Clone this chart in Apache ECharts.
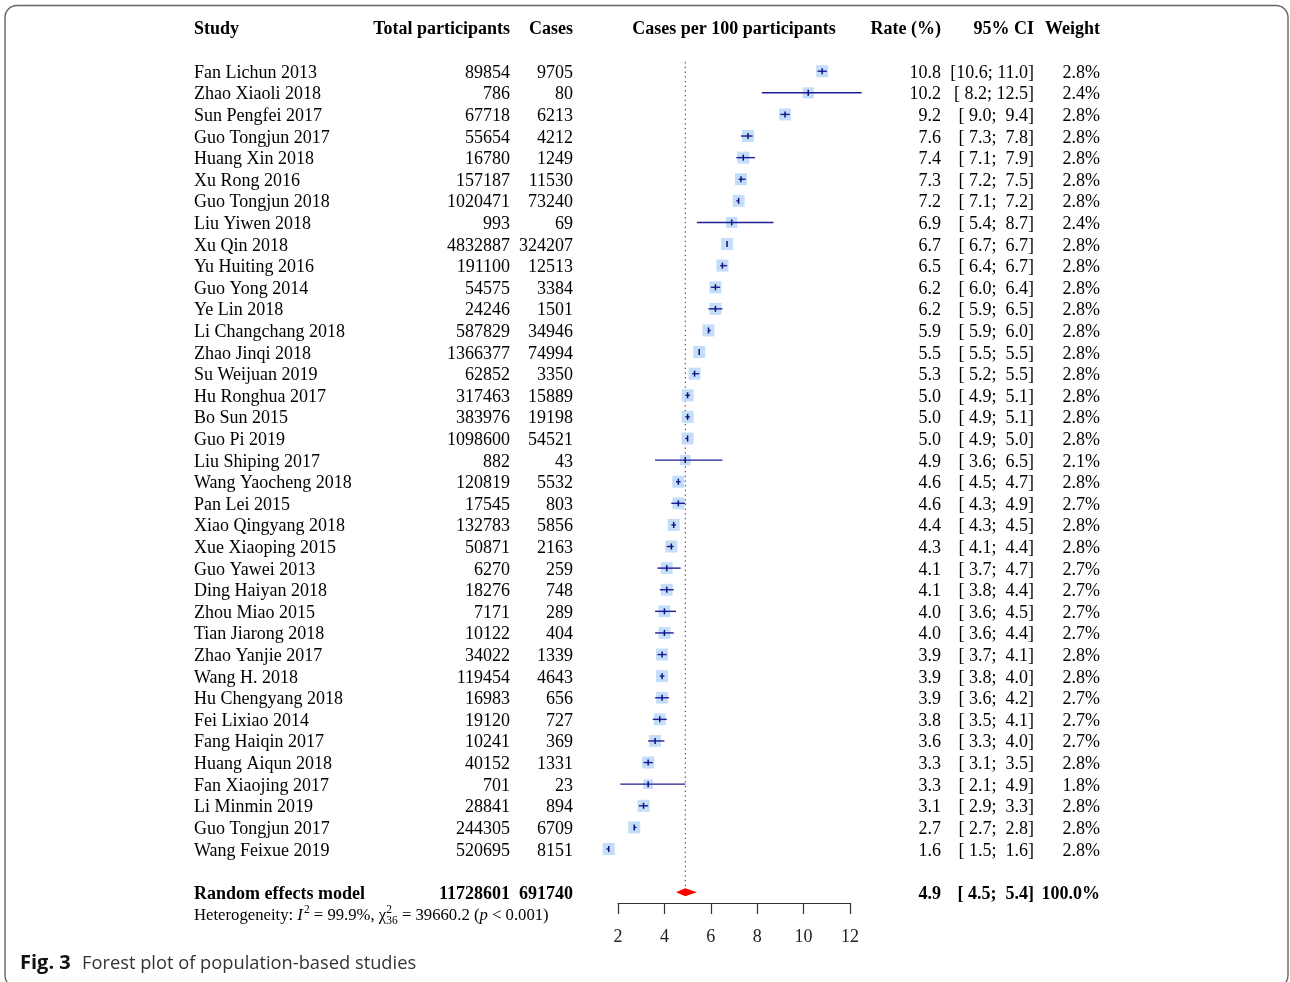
<!DOCTYPE html>
<html>
<head>
<meta charset="utf-8">
<title>Forest plot of population-based studies</title>
<script src="https://cdn.jsdelivr.net/npm/echarts@6/dist/echarts.min.js"></script>
<style>
  html, body { margin: 0; padding: 0; background: #fff; }
  #chart { width: 1290px; height: 982px; }
</style>
</head>
<body>
<div id="chart"></div>
<script>
// studies, top to bottom as they appear in the plot
var studies = ['Fan Lichun 2013', 'Zhao Xiaoli 2018', 'Sun Pengfei 2017', 'Guo Tongjun 2017', 'Huang Xin 2018',
  'Xu Rong 2016', 'Guo Tongjun 2018', 'Liu Yiwen 2018', 'Xu Qin 2018', 'Yu Huiting 2016', 'Guo Yong 2014',
  'Ye Lin 2018', 'Li Changchang 2018', 'Zhao Jinqi 2018', 'Su Weijuan 2019', 'Hu Ronghua 2017', 'Bo Sun 2015',
  'Guo Pi 2019', 'Liu Shiping 2017', 'Wang Yaocheng 2018', 'Pan Lei 2015', 'Xiao Qingyang 2018', 'Xue Xiaoping 2015',
  'Guo Yawei 2013', 'Ding Haiyan 2018', 'Zhou Miao 2015', 'Tian Jiarong 2018', 'Zhao Yanjie 2017', 'Wang H. 2018',
  'Hu Chengyang 2018', 'Fei Lixiao 2014', 'Fang Haiqin 2017', 'Huang Aiqun 2018', 'Fan Xiaojing 2017',
  'Li Minmin 2019', 'Guo Tongjun 2017', 'Wang Feixue 2019'];
var totals = [89854, 786, 67718, 55654, 16780, 157187, 1020471, 993, 4832887, 191100, 54575, 24246, 587829,
  1366377, 62852, 317463, 383976, 1098600, 882, 120819, 17545, 132783, 50871, 6270, 18276, 7171, 10122, 34022,
  119454, 16983, 19120, 10241, 40152, 701, 28841, 244305, 520695];
var cases = [9705, 80, 6213, 4212, 1249, 11530, 73240, 69, 324207, 12513, 3384, 1501, 34946, 74994, 3350, 15889,
  19198, 54521, 43, 5532, 803, 5856, 2163, 259, 748, 289, 404, 1339, 4643, 656, 727, 369, 1331, 23, 894, 6709, 8151];
var rates = [10.8, 10.2, 9.2, 7.6, 7.4, 7.3, 7.2, 6.9, 6.7, 6.5, 6.2, 6.2, 5.9, 5.5, 5.3, 5.0, 5.0, 5.0, 4.9, 4.6,
  4.6, 4.4, 4.3, 4.1, 4.1, 4.0, 4.0, 3.9, 3.9, 3.9, 3.8, 3.6, 3.3, 3.3, 3.1, 2.7, 1.6];
var ciLow = [10.6, 8.2, 9.0, 7.3, 7.1, 7.2, 7.1, 5.4, 6.7, 6.4, 6.0, 5.9, 5.9, 5.5, 5.2, 4.9, 4.9, 4.9, 3.6, 4.5,
  4.3, 4.3, 4.1, 3.7, 3.8, 3.6, 3.6, 3.7, 3.8, 3.6, 3.5, 3.3, 3.1, 2.1, 2.9, 2.7, 1.5];
var ciHigh = [11.0, 12.5, 9.4, 7.8, 7.9, 7.5, 7.2, 8.7, 6.7, 6.7, 6.4, 6.5, 6.0, 5.5, 5.5, 5.1, 5.1, 5.0, 6.5, 4.7,
  4.9, 4.5, 4.4, 4.7, 4.4, 4.5, 4.4, 4.1, 4.0, 4.2, 4.1, 4.0, 3.5, 4.9, 3.3, 2.8, 1.6];
var weights = [2.8, 2.4, 2.8, 2.8, 2.8, 2.8, 2.8, 2.4, 2.8, 2.8, 2.8, 2.8, 2.8, 2.8, 2.8, 2.8, 2.8, 2.8, 2.1, 2.8,
  2.7, 2.8, 2.8, 2.7, 2.7, 2.7, 2.7, 2.8, 2.8, 2.7, 2.7, 2.7, 2.8, 1.8, 2.8, 2.8, 2.8];

// random effects model
var pooledTotal = 11728601;
var pooledCases = 691740;
var pooledRate = 4.9;
var pooledLow = 4.5;
var pooledHigh = 5.4;
var pooledWeight = 100.0;

// heterogeneity
var i2 = '99.9%';
var chi2 = '39660.2';
var chiDf = '36';
var pText = '< 0.001';

var headers = ['Study', 'Total participants', 'Cases', 'Cases per 100 participants', 'Rate (%)', '95% CI', 'Weight'];
var xTicks = [2, 4, 6, 8, 10, 12];

// rows in y-axis units (row 0 = first study)
var ROW_HEADER = -2, ROW_POOLED = 38, ROW_HET = 39;

var SERIF = '"Liberation Serif", "Times New Roman", serif';
var SANS = '"Open Sans", "Noto Sans", sans-serif';
var FS = 18;
var TEXT_DY = 1.8; // serif glyphs sit a bit low in the row
// x positions of the text columns (pixels)
var colStudy = 194, colTotal = 510, colCases = 573, colRate = 941, colCI = 1034, colWeight = 1100;

function fmt1(v) { return v.toFixed(1); }
function pad4(s) { return s.length < 4 ? ' ' + s : s; }
function ciText(lo, hi) { return '[' + pad4(fmt1(lo)) + '; ' + pad4(fmt1(hi)) + ']'; }

function cell(text, x, y, align, bold) {
    return {
        type: 'text', x: x, y: y + TEXT_DY,
        style: {
            text: text, fill: '#000', align: align, verticalAlign: 'middle',
            font: (bold ? 'bold ' : '') + FS + 'px ' + SERIF
        }
    };
}

var measureCtx = document.createElement('canvas').getContext('2d');
function textWidth(t, font) { measureCtx.font = font; return measureCtx.measureText(t).width; }

var chart = echarts.init(document.getElementById('chart'));

var option = {
    animation: false,
    backgroundColor: '#fff',
    grid: { left: 618, width: 232, top: 28, bottom: 79 },
    xAxis: {
        type: 'value', position: 'bottom',
        min: xTicks[0], max: xTicks[xTicks.length - 1], interval: xTicks[1] - xTicks[0],
        axisLine: { onZero: false, lineStyle: { color: '#333', width: 1.2 } },
        axisTick: { length: 11, lineStyle: { color: '#333', width: 1.2 } },
        axisLabel: { color: '#222', fontFamily: SERIF, fontSize: FS, margin: 25 },
        splitLine: { show: false }
    },
    yAxis: { type: 'value', inverse: true, min: ROW_HEADER, max: 38.5, show: false },
    graphic: [
        {
            type: 'rect', shape: { x: 5, y: 5.5, width: 1283, height: 982, r: 12 },
            style: { fill: null, stroke: '#666', lineWidth: 1.4 }, silent: true
        },
        {
            type: 'text', x: 20, y: 963.5,
            style: { text: 'Fig. 3', font: 'bold 20px ' + SANS, fill: '#111', verticalAlign: 'middle' }
        },
        {
            type: 'text', x: 82, y: 963.5,
            style: {
                text: 'Forest plot of population-based studies', font: '18.3px ' + SANS,
                fill: '#333', verticalAlign: 'middle'
            }
        }
    ],
    series: [
        {
            // dotted reference line at the pooled estimate
            type: 'custom', name: 'pooled line', clip: false, silent: true,
            data: [[pooledRate, ROW_POOLED]],
            renderItem: function (params, api) {
                var top = api.coord([api.value(0), -0.42]);
                var bot = api.coord([api.value(0), api.value(1)]);
                return {
                    type: 'line',
                    shape: { x1: top[0], y1: top[1], x2: bot[0], y2: bot[1] - 4 },
                    style: { stroke: '#222', lineWidth: 1, lineDash: [1.3, 3.4] }
                };
            }
        },
        {
            type: 'custom', name: 'studies', clip: false, silent: true,
            data: rates.map(function (r, i) { return [r, ciLow[i], ciHigh[i], weights[i], i]; }),
            renderItem: function (params, api) {
                var row = api.value(4);
                var est = api.coord([api.value(0), row]);
                var lo = api.coord([api.value(1), row]);
                var hi = api.coord([api.value(2), row]);
                var size = 12 * Math.sqrt(api.value(3) / 2.8);
                return {
                    type: 'group',
                    children: [
                        {
                            type: 'rect',
                            shape: { x: est[0] - size / 2, y: est[1] - size / 2, width: size, height: size },
                            style: { fill: '#c4ddf8' }
                        },
                        {
                            type: 'line',
                            shape: { x1: lo[0], y1: lo[1], x2: hi[0], y2: hi[1] },
                            style: { stroke: '#1c1c94', lineWidth: 1.4 }
                        },
                        {
                            type: 'line',
                            shape: { x1: est[0], y1: est[1] - 3, x2: est[0], y2: est[1] + 3 },
                            style: { stroke: '#10107e', lineWidth: 1.5 }
                        }
                    ]
                };
            }
        },
        {
            type: 'custom', name: 'random effects', clip: false, silent: true,
            data: [[pooledRate, pooledLow, pooledHigh, ROW_POOLED]],
            renderItem: function (params, api) {
                var row = api.value(3);
                var est = api.coord([api.value(0), row]);
                var lo = api.coord([api.value(1), row]);
                var hi = api.coord([api.value(2), row]);
                return {
                    type: 'polygon',
                    shape: { points: [[lo[0], lo[1]], [est[0], est[1] - 4], [hi[0], hi[1]], [est[0], est[1] + 4]] },
                    style: { fill: '#ff0000' }
                };
            }
        },
        {
            type: 'custom', name: 'table', clip: false, silent: true,
            data: studies.map(function (s, i) { return [rates[i], i]; }),
            renderItem: function (params, api) {
                var i = params.dataIndex;
                var y = api.coord([rates[i], i])[1];
                return {
                    type: 'group',
                    children: [
                        cell(studies[i], colStudy, y, 'left'),
                        cell(String(totals[i]), colTotal, y, 'right'),
                        cell(String(cases[i]), colCases, y, 'right'),
                        cell(fmt1(rates[i]), colRate, y, 'right'),
                        cell(ciText(ciLow[i], ciHigh[i]), colCI, y, 'right'),
                        cell(fmt1(weights[i]) + '%', colWeight, y, 'right')
                    ]
                };
            }
        },
        {
            type: 'custom', name: 'headers and summary', clip: false, silent: true,
            data: [[pooledRate, ROW_HEADER]],
            renderItem: function (params, api) {
                var yh = api.coord([pooledRate, ROW_HEADER])[1];
                var yp = api.coord([pooledRate, ROW_POOLED])[1];
                var yhet = api.coord([pooledRate, ROW_HET])[1] + TEXT_DY;
                var mid = api.coord([(xTicks[0] + xTicks[xTicks.length - 1]) / 2, ROW_HEADER])[0];
                var kids = [
                    cell(headers[0], colStudy, yh, 'left', true),
                    cell(headers[1], colTotal, yh, 'right', true),
                    cell(headers[2], colCases, yh, 'right', true),
                    cell(headers[3], mid, yh, 'center', true),
                    cell(headers[4], colRate, yh, 'right', true),
                    cell(headers[5], colCI, yh, 'right', true),
                    cell(headers[6], colWeight, yh, 'right', true),
                    cell('Random effects model', colStudy, yp, 'left', true),
                    cell(String(pooledTotal), colTotal, yp, 'right', true),
                    cell(String(pooledCases), colCases, yp, 'right', true),
                    cell(fmt1(pooledRate), colRate, yp, 'right', true),
                    cell(ciText(pooledLow, pooledHigh), colCI, yp, 'right', true),
                    cell(fmt1(pooledWeight) + '%', colWeight, yp, 'right', true)
                ];
                // heterogeneity line with italic I, p and stacked sup/sub on chi
                var fN = '16.7px ' + SERIF, fI = 'italic 16.7px ' + SERIF, fS = '11.5px ' + SERIF;
                var x = colStudy;
                function piece(t, font, dy) {
                    kids.push({
                        type: 'text', x: x, y: yhet + dy,
                        style: { text: t, font: font, fill: '#000', align: 'left', verticalAlign: 'middle' }
                    });
                    return textWidth(t, font);
                }
                x += piece('Heterogeneity: ', fN, 0);
                x += piece('I', fI, 0) + 1;
                x += piece('2', fS, -6);
                x += piece(' = ' + i2 + ', \u03c7', fN, 0);
                var w1 = piece('2', fS, -6);
                var w2 = piece(chiDf, fS, 5);
                x += Math.max(w1, w2);
                x += piece(' = ' + chi2 + ' (', fN, 0);
                x += piece('p', fI, 0);
                piece(' ' + pText + ')', fN, 0);
                return { type: 'group', children: kids };
            }
        }
    ]
};

chart.setOption(option);
</script>
</body>
</html>
